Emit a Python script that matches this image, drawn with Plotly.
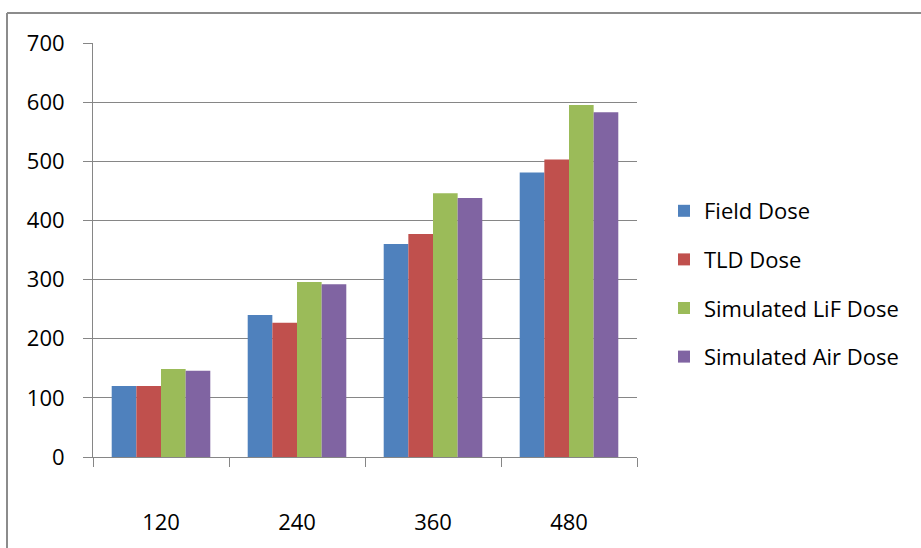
import plotly.graph_objects as go

categories = ["120", "240", "360", "480"]
field_dose = [120, 240, 360, 481]
tld_dose = [120, 227, 377, 503]
sim_lif_dose = [149, 296, 446, 595]
sim_air_dose = [146, 292, 438, 583]

series_names = ["Field Dose", "TLD Dose", "Simulated LiF Dose", "Simulated Air Dose"]
series_values = [field_dose, tld_dose, sim_lif_dose, sim_air_dose]
colors = ["#4F81BD", "#C0504D", "#9BBB59", "#8064A2"]

W, H = 921, 548
L, T = 93, 43
R = W - 637
B = H - 457
pw, ph = W - L - R, H - T - B

fig = go.Figure()
for i, (name, vals, c) in enumerate(zip(series_names, series_values, colors)):
    fig.add_trace(go.Bar(x=categories, y=vals, name=name, marker=dict(color=c, line=dict(width=0)),
                         legendgroup=f"g{i}"))

font = "Open Sans, Liberation Sans, Arial, sans-serif"
fig.update_layout(
    width=W, height=H,
    margin=dict(l=L, r=R, t=T, b=B, autoexpand=False),
    paper_bgcolor="white", plot_bgcolor="white",
    barmode="group", bargap=0.275, bargroupgap=0,
    font=dict(family=font, color="#000000"),
    showlegend=True,
    legend=dict(x=(664 - L) / pw, y=1 - (284 - 43) / 414, xanchor="left", yanchor="middle",
                font=dict(size=22, family=font), tracegroupgap=17,
                bgcolor="rgba(0,0,0,0)", itemwidth=30),
    xaxis=dict(type="category", showline=True, linecolor="#868686", linewidth=1,
               ticks="outside", tickson="boundaries", ticklen=9, tickcolor="#868686",
               tickfont=dict(size=22), ticklabelstandoff=46, showgrid=False, zeroline=False),
    yaxis=dict(range=[0, 700], dtick=100, showline=True, linecolor="#868686", linewidth=1,
               ticks="outside", ticklen=9, tickcolor="#868686", tickfont=dict(size=22),
               ticklabelstandoff=14, showgrid=True, gridcolor="#868686", gridwidth=1,
               zeroline=False),
)

# chart area frame (top and left edges; the rest lies outside the picture)
fx0 = (7 - L) / pw
fx1 = (W + 40 - L) / pw
fy_top = 1 + (T - 13) / ph
fy_bot = -(H + 40 - (H - B)) / ph
frame = dict(color="#8C8C8C", width=2)
fig.add_shape(type="line", xref="paper", yref="paper", x0=fx0, x1=fx1, y0=fy_top, y1=fy_top,
              line=frame, layer="below")
fig.add_shape(type="line", xref="paper", yref="paper", x0=fx0, x1=fx0, y0=fy_bot, y1=fy_top,
              line=frame, layer="below")

fig.write_html("out.html", config={"displayModeBar": False},
               post_script="document.body.style.margin='0';"
                           "document.body.style.overflow='hidden';"
                           "document.documentElement.style.overflow='hidden';")
